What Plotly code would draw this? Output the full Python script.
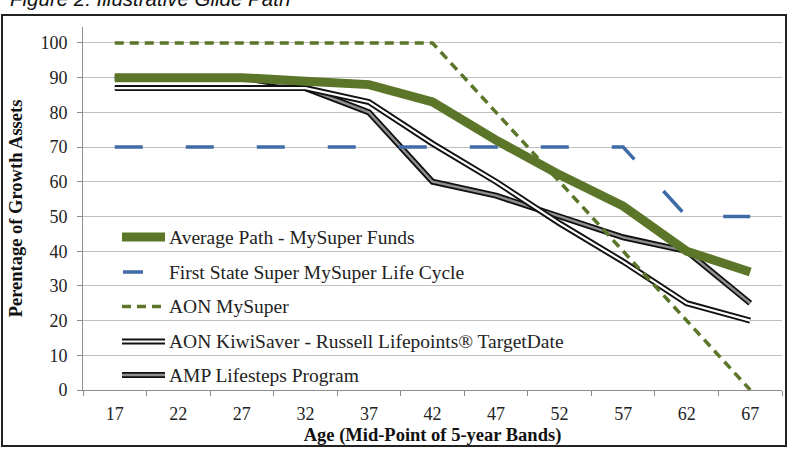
import plotly.graph_objects as go

ages = ["17", "22", "27", "32", "37", "42", "47", "52", "57", "62", "67"]
avg_path = [90, 90, 90, 89, 88, 83, 72, 62, 53, 40, 34]
first_state = [70, 70, 70, 70, 70, 70, 70, 70, 70, 50, 50]
aon_mysuper = [100, 100, 100, 100, 100, 100, 80, 60, 40, 20, 0]
aon_kiwi = [87, 87, 87, 87, 83, 71, 60, 48, 37, 25, 20]
amp_lifesteps = [90, 90, 90, 87, 80, 60, 56, 50, 44, 40, 25]

names = [
    "Average Path - MySuper Funds",
    "First State Super MySuper Life Cycle",
    "AON MySuper",
    "AON KiwiSaver - Russell Lifepoints® TargetDate",
    "AMP Lifesteps Program",
]

GREEN = "#5B7628"
BLUE = "#3F6BA6"
SERIF = "Liberation Serif, Times New Roman, serif"

W, H = 788, 450
L, R, T, B = 83, 6, 27, 60
PW, PH = W - L - R, H - T - B


def px(xp):
    return (xp - L) / PW


def py(yp):
    return (H - B - yp) / PH


fig = go.Figure()

# double lines: black outer, light inner
fig.add_trace(go.Scatter(x=ages, y=amp_lifesteps, mode="lines", name=names[4],
                         line=dict(color="#111111", width=6)))
fig.add_trace(go.Scatter(x=ages, y=amp_lifesteps, mode="lines", showlegend=False,
                         line=dict(color="#8F8F8F", width=2.4)))
fig.add_trace(go.Scatter(x=ages, y=aon_kiwi, mode="lines", name=names[3],
                         line=dict(color="#111111", width=6)))
fig.add_trace(go.Scatter(x=ages, y=aon_kiwi, mode="lines", showlegend=False,
                         line=dict(color="#FFFFFF", width=2.2)))
fig.add_trace(go.Scatter(x=ages, y=first_state, mode="lines", name=names[1],
                         line=dict(color=BLUE, width=3.5, dash="28px,43px")))
fig.add_trace(go.Scatter(x=ages, y=aon_mysuper, mode="lines", name=names[2],
                         line=dict(color=GREEN, width=3.5, dash="9px,6px")))
fig.add_trace(go.Scatter(x=ages, y=avg_path, mode="lines", name=names[0],
                         line=dict(color=GREEN, width=9)))

fig.update_layout(
    width=W, height=H,
    margin=dict(l=L, r=R, t=T, b=B),
    paper_bgcolor="white", plot_bgcolor="white",
    showlegend=False,
    font=dict(family=SERIF, size=18, color="#222222"),
)

fig.update_xaxes(
    type="category", range=[-0.5, 10.5], tickson="boundaries", ticks="outside", ticklen=5,
    tickcolor="#8C8C8C", showline=True, linecolor="#8C8C8C", linewidth=1,
    showgrid=False, ticklabelstandoff=7,
    tickfont=dict(family=SERIF, size=18, color="#222222"),
    title=dict(text="<b>Age (Mid-Point of 5-year Bands)</b>", standoff=5,
               font=dict(family=SERIF, size=18.5, color="#111111")),
)
fig.update_yaxes(
    range=[0, 104.6], tickvals=list(range(0, 101, 10)), ticks="outside", ticklen=5,
    tickcolor="#8C8C8C", showline=True, linecolor="#8C8C8C", linewidth=1,
    showgrid=True, gridcolor="#BFBFBF", gridwidth=1, zeroline=False,
    ticklabelstandoff=6,
    tickfont=dict(family=SERIF, size=18, color="#222222"),
    title=dict(text="<b>Perentage of Growth Assets</b>", standoff=12,
               font=dict(family=SERIF, size=18.5, color="#111111")),
)

shapes = []
annotations = []

# outer frame
shapes.append(dict(type="rect", xref="paper", yref="paper",
                   x0=px(2), x1=px(786), y0=py(446), y1=py(15),
                   line=dict(color="#222222", width=2), fillcolor="rgba(0,0,0,0)"))

# manual legend
rows = [237, 272, 306.5, 341.5, 375]
x0s, x1s = px(122), px(165)
# Average
shapes.append(dict(type="line", xref="paper", yref="paper", x0=x0s, x1=x1s,
                   y0=py(rows[0]), y1=py(rows[0]), line=dict(color=GREEN, width=9)))
# First State
shapes.append(dict(type="line", xref="paper", yref="paper", x0=px(123), x1=px(165),
                   y0=py(rows[1]), y1=py(rows[1]),
                   line=dict(color=BLUE, width=3.5, dash="20px,30px")))
# AON MySuper
shapes.append(dict(type="line", xref="paper", yref="paper", x0=x0s, x1=x1s,
                   y0=py(rows[2]), y1=py(rows[2]),
                   line=dict(color=GREEN, width=3.5, dash="9px,6px")))
# AON KiwiSaver
shapes.append(dict(type="line", xref="paper", yref="paper", x0=x0s, x1=x1s,
                   y0=py(rows[3]), y1=py(rows[3]), line=dict(color="#111111", width=6)))
shapes.append(dict(type="line", xref="paper", yref="paper", x0=x0s, x1=x1s,
                   y0=py(rows[3]), y1=py(rows[3]), line=dict(color="#FFFFFF", width=2.2)))
# AMP
shapes.append(dict(type="line", xref="paper", yref="paper", x0=x0s, x1=x1s,
                   y0=py(rows[4]), y1=py(rows[4]), line=dict(color="#111111", width=6)))
shapes.append(dict(type="line", xref="paper", yref="paper", x0=x0s, x1=x1s,
                   y0=py(rows[4]), y1=py(rows[4]), line=dict(color="#8F8F8F", width=2.4)))

for name, r in zip(names, rows):
    annotations.append(dict(text=name, xref="paper", yref="paper", x=px(167), y=py(r),
                            xanchor="left", yanchor="middle", showarrow=False,
                            font=dict(family=SERIF, size=19.5, color="#222222")))

# title (partially cut at top, as in the reference)
annotations.append(dict(text="<i>Figure 2: Illustrative Glide Path</i>", xref="paper", yref="paper",
                        x=px(8), y=py(12), xanchor="left", yanchor="bottom", showarrow=False,
                        font=dict(family="Liberation Sans, Arial, sans-serif", size=20.5, color="#111111")))

fig.update_layout(shapes=shapes, annotations=annotations)

fig.write_html("out.html")
